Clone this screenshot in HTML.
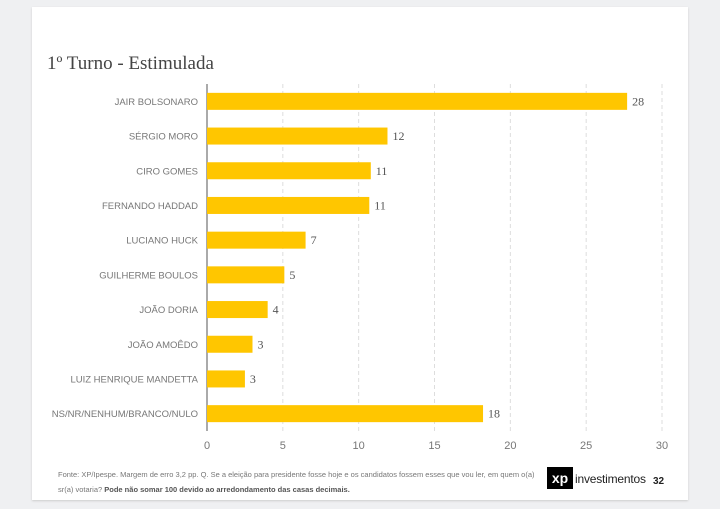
<!DOCTYPE html>
<html><head><meta charset="utf-8"><style>
body{margin:0;width:720px;height:509px;background:#eff0f2;font-family:"Liberation Sans",sans-serif;overflow:hidden;position:relative}
#card{position:absolute;left:32px;top:7px;width:656px;height:493px;background:#fff;box-shadow:0 1px 2px #ccc}
#title{position:absolute;left:47px;top:53px;font-family:"Liberation Serif",serif;font-size:19px;color:#444}
#foot{position:absolute;left:58px;top:467px;font-size:7.5px;line-height:15px;color:#777;width:490px}
#logo{position:absolute;left:547px;top:467px;width:26px;height:22px;background:#000;color:#fff;font-weight:bold;font-size:14px;text-align:center;line-height:22px}
#logotext{position:absolute;left:575px;top:472px;font-size:12px;color:#222;letter-spacing:-0.2px}
#pg{position:absolute;left:653px;top:476px;font-size:10px;font-weight:bold;color:#222}
</style></head><body>
<div id="card"></div>
<div id="title">1º Turno - Estimulada</div>
<svg id="chart" width="720" height="509" style="position:absolute;left:0;top:0"></svg>
<div id="foot">Fonte: XP/Ipespe. Margem de erro 3,2 pp. Q. Se a eleição para presidente fosse hoje e os candidatos fossem esses que vou ler, em quem o(a) sr(a) votaria? <b style="color:#555">Pode não somar 100 devido ao arredondamento das casas decimais.</b></div>
<div id="logo">xp</div>
<div id="logotext">investimentos</div>
<div id="pg">32</div>
<script>
const categories=["JAIR BOLSONARO","SÉRGIO MORO","CIRO GOMES","FERNANDO HADDAD","LUCIANO HUCK","GUILHERME BOULOS","JOÃO DORIA","JOÃO AMOÊDO","LUIZ HENRIQUE MANDETTA","NS/NR/NENHUM/BRANCO/NULO"];
const values=[27.7,11.9,10.8,10.7,6.5,5.1,4.0,3.0,2.5,18.2];
const labels=["28","12","11","11","7","5","4","3","3","18"];
const ticks=[0,5,10,15,20,25,30];
const svg=document.getElementById('chart');
const NS='http://www.w3.org/2000/svg';
const x0=207,x1=662,y0=84,rowH=34.7,barH=17;
const xs=v=>x0+(x1-x0)*v/30;
const yc=i=>y0+rowH*(i+0.5);
function mk(t,a){const e=document.createElementNS(NS,t);for(const k in a)e.setAttribute(k,a[k]);svg.appendChild(e);return e;}
ticks.forEach(t=>{
  if(t>0){const g=mk('line',{x1:xs(t),x2:xs(t),y1:y0,y2:y0+rowH*10,stroke:'#ddd','stroke-dasharray':'4,3'});
  
  }
  const l=mk('text',{x:xs(t),y:449,'text-anchor':'middle','font-size':11,fill:'#777','font-family':'Liberation Sans'});
  l.textContent=t;
  
  
});
const ax=mk('line',{x1:x0,x2:x0,y1:y0,y2:y0+rowH*10,stroke:'#555','stroke-width':1});


categories.forEach((c,i)=>{
  const t=mk('text',{x:198,y:yc(i)+3.5,'text-anchor':'end','font-size':9.5,fill:'#777','font-family':'Liberation Sans'});
  t.textContent=c;
  
  
  const b=mk('rect',{x:x0,y:yc(i)-barH/2,width:xs(values[i])-x0,height:barH,fill:'#ffc600'});
  
  
  const v=mk('text',{x:xs(values[i])+5,y:yc(i)+4,'font-size':12,fill:'#555','font-family':'Liberation Serif'});
  v.textContent=labels[i];
  
  
});
</script>
</body></html>
